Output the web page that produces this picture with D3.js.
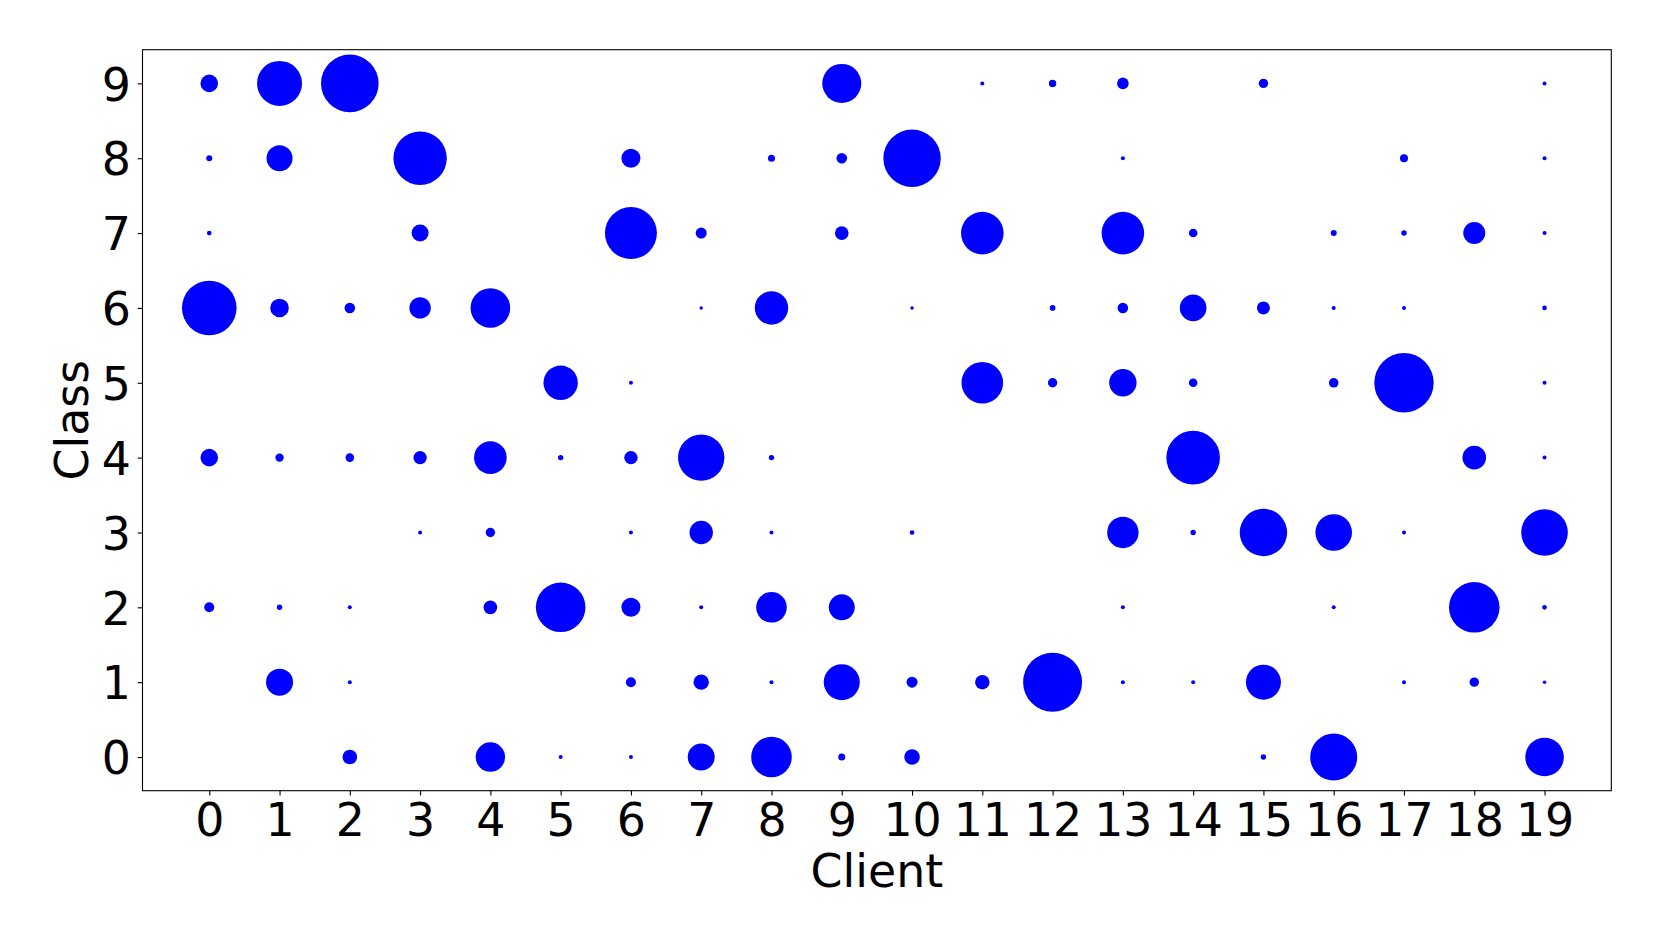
<!DOCTYPE html>
<html>
<head>
<meta charset="utf-8">
<script src="https://cdn.jsdelivr.net/npm/d3@7/dist/d3.min.js"></script>
<style>
  body { margin: 0; background: #fff; }
  text { font-family: "DejaVu Sans", sans-serif; fill: #000; }
</style>
</head>
<body>
<div id="svg"></div>
<script>
// clients on x, classes on y
var clients = d3.range(0, 20);
var classes = d3.range(0, 10);
var xTicks = clients.map(String);
var yTicks = classes.map(String);

// samples per class for every client (row = class 0..9, column = client 0..19)
var class0 = [0, 0, 160, 0, 648, 12, 12, 547, 1236, 37, 183, 0, 0, 0, 0, 22, 1657, 0, 0, 1117];
var class1 = [0, 547, 12, 0, 0, 0, 75, 178, 12, 972, 91, 156, 2611, 12, 12, 919, 0, 12, 66, 9];
var class2 = [75, 22, 12, 0, 139, 1845, 271, 12, 702, 507, 0, 0, 0, 12, 0, 0, 12, 0, 1920, 16];
var class3 = [0, 0, 0, 12, 66, 0, 12, 411, 12, 0, 16, 0, 0, 739, 22, 1685, 1005, 12, 0, 1629];
var class4 = [232, 53, 55, 135, 797, 22, 135, 1615, 22, 0, 0, 0, 0, 0, 2155, 0, 0, 0, 418, 12];
var class5 = [0, 0, 0, 0, 0, 888, 12, 0, 0, 0, 0, 1298, 66, 563, 55, 0, 69, 2646, 0, 12];
var class6 = [2236, 259, 84, 343, 1176, 0, 0, 9, 837, 0, 9, 0, 24, 84, 531, 127, 12, 12, 0, 16];
var class7 = [16, 0, 0, 217, 0, 0, 2028, 91, 0, 139, 0, 1361, 0, 1361, 55, 0, 27, 22, 363, 12];
var class8 = [27, 507, 0, 2139, 0, 0, 271, 0, 37, 84, 2471, 0, 0, 12, 0, 0, 0, 48, 0, 12];
var class9 = [232, 1519, 2488, 0, 0, 0, 0, 0, 0, 1141, 0, 12, 41, 101, 0, 66, 0, 0, 0, 12];
var counts = [class0, class1, class2, class3, class4, class5, class6, class7, class8, class9];

// svg dimensions
var svgWidth = 1661;
var svgHeight = 949;
var margin = {top: 49.7, right: 49.7, bottom: 158.3, left: 142.5};
var chartWidth = svgWidth - margin.left - margin.right;
var chartHeight = svgHeight - margin.top - margin.bottom;
var fontSize = 45.8;

var $svg = d3.select("#svg")
    .append("svg")
    .attr("width", svgWidth)
    .attr("height", svgHeight);

$svg.append("rect")
    .attr("width", svgWidth)
    .attr("height", svgHeight)
    .attr("fill", "#fff");

var chartGroup = $svg.append("g")
    .attr("transform", `translate(${margin.left},${margin.top})`);

// flatten into points
var data = [];
counts.forEach((row, ci) => {
    row.forEach((v, k) => {
        if (v > 0) data.push({client: clients[k], cls: classes[ci], n: v});
    });
});

// scales
var xScale = d3.scaleLinear()
    .domain([-0.95, 19.95])
    .range([0, chartWidth]);
var yScale = d3.scaleLinear()
    .domain([-0.45, 9.45])
    .range([chartHeight, 0]);
// marker area proportional to count
var rScale = d3.scaleSqrt()
    .domain([0, 3000])
    .range([0, Math.sqrt(1000)]);

// bubbles
chartGroup.selectAll("circle")
    .data(data)
    .enter()
    .append("circle")
    .attr("cx", d => xScale(d.client))
    .attr("cy", d => yScale(d.cls))
    .attr("r", d => rScale(d.n))
    .attr("fill", "#0000ff");

// axes
var bottomAxis = d3.axisBottom(xScale)
    .tickValues(clients)
    .tickFormat((d, i) => xTicks[i])
    .tickSize(4.9)
    .tickPadding(4.9);
var leftAxis = d3.axisLeft(yScale)
    .tickValues(classes)
    .tickFormat((d, i) => yTicks[i])
    .tickSize(4.9)
    .tickPadding(8);

var xAxisG = chartGroup.append("g")
    .attr("transform", `translate(0,${chartHeight})`)
    .call(bottomAxis);
var yAxisG = chartGroup.append("g")
    .call(leftAxis);

[xAxisG, yAxisG].forEach(g => {
    g.select(".domain").remove();
    g.selectAll(".tick line").attr("stroke", "#000").attr("stroke-width", 1.1);
    g.selectAll(".tick text")
        .attr("font-size", fontSize)
        .attr("font-family", "DejaVu Sans")
        .attr("fill", "#000");
});
xAxisG.selectAll(".tick text").attr("dy", null).attr("y", 45.5);
yAxisG.selectAll(".tick text").attr("dy", "0.365em").attr("x", -11.5);

// frame
chartGroup.append("rect")
    .attr("width", chartWidth)
    .attr("height", chartHeight)
    .attr("fill", "none")
    .attr("stroke", "#000")
    .attr("stroke-width", 1.1);

// axis labels
chartGroup.append("text")
    .attr("text-anchor", "middle")
    .attr("x", chartWidth / 2)
    .attr("y", 887 - margin.top)
    .attr("font-size", fontSize)
    .text("Client");
chartGroup.append("text")
    .attr("text-anchor", "middle")
    .attr("transform", `translate(${88 - margin.left},${chartHeight / 2})rotate(-90)`)
    .attr("font-size", fontSize)
    .text("Class");
</script>
</body>
</html>
